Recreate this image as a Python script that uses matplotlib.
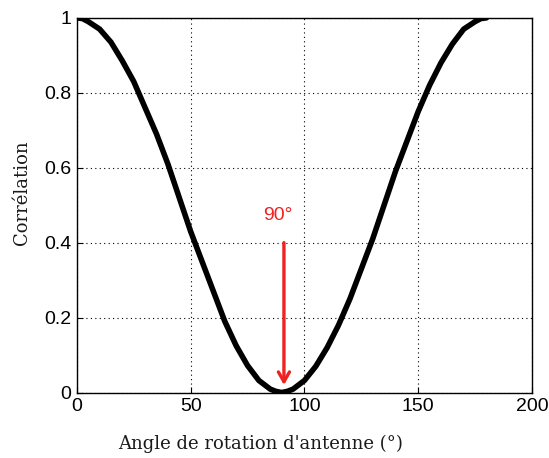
import numpy as np
import matplotlib
matplotlib.use("Agg")
import matplotlib.pyplot as plt

# angle (deg) and correlation
angle = [0, 2.5, 5, 10, 15, 20, 25, 30, 35, 40, 45, 50, 55, 60, 65, 70, 75, 80, 85, 87.5, 90,
         92.5, 95, 100, 105, 110, 115, 120, 125, 130, 135, 140, 145, 150, 155, 160, 165, 170,
         175, 177.5, 180]
correlation = [1.0, 0.998, 0.99, 0.97, 0.935, 0.885, 0.83, 0.76, 0.69, 0.61, 0.52, 0.43,
               0.35, 0.27, 0.19, 0.125, 0.072, 0.032, 0.009, 0.003, 0.0,
               0.003, 0.009, 0.032, 0.07, 0.12, 0.18, 0.25, 0.33, 0.41, 0.50, 0.59, 0.67,
               0.75, 0.82, 0.88, 0.93, 0.97, 0.99, 0.998, 1.0]

xticks = [0, 50, 100, 150, 200]
yticks = [0, 0.2, 0.4, 0.6, 0.8, 1]
ytick_labels = ["0", "0.2", "0.4", "0.6", "0.8", "1"]

marker_angle = 91
marker_label = "90°"

fig = plt.figure(figsize=(5.49, 4.58), dpi=100)
ax = fig.add_axes([0.140, 0.143, 0.829, 0.818])

ax.plot(angle, correlation, color="black", linewidth=4.0, solid_capstyle="round",
        solid_joinstyle="round")

ax.set_xlim(0, 200)
ax.set_ylim(0, 1)
ax.set_xticks(xticks)
ax.set_yticks(yticks)
ax.set_yticklabels(ytick_labels)
ax.grid(True, color="black", linestyle=(0, (1, 3)), linewidth=0.8)
ax.tick_params(direction="in", length=4, labelsize=14, pad=4, top=False, right=False)
for lab in ax.get_xticklabels() + ax.get_yticklabels():
    lab.set_family("Liberation Sans")
for s in ax.spines.values():
    s.set_linewidth(1.0)

# red arrow pointing to the minimum
ax.annotate("", xy=(marker_angle, 0.02), xytext=(marker_angle, 0.40),
            arrowprops=dict(arrowstyle="->,head_length=0.7,head_width=0.4",
                            color="#ee2222", lw=2.4, shrinkA=0, shrinkB=0))
ax.text(88.5, 0.472, marker_label, color="#ee2222", fontsize=14,
        family="Liberation Sans", ha="center", va="center")

fig.text(0.474, 0.031, "Angle de rotation d'antenne (°)", family="DejaVu Serif",
         fontsize=13, color="#1a1a1a", ha="center", va="center")
fig.text(0.040, 1 - 193 / 458, "Corrélation", family="DejaVu Serif", fontsize=13,
         color="#1a1a1a", ha="center", va="center", rotation=90)

fig.savefig("out.png", dpi=100)
